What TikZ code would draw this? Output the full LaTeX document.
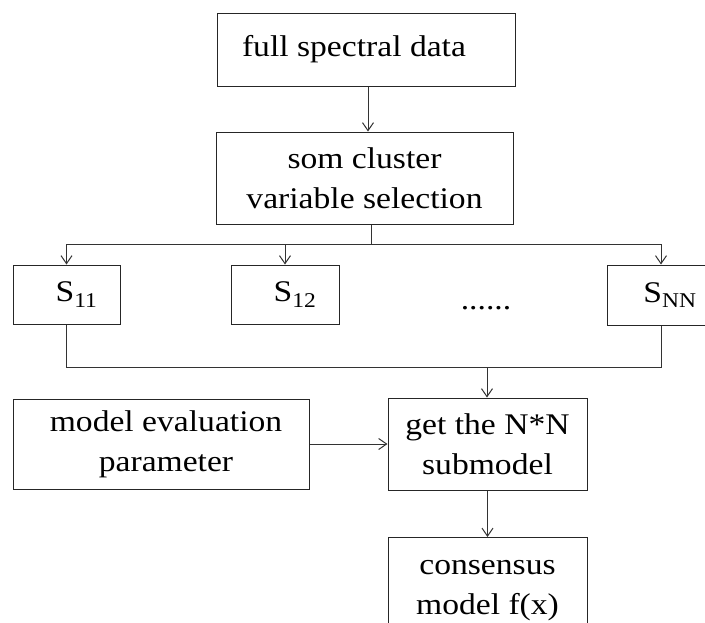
\documentclass[tikz,border=0pt]{standalone}
\usepackage{fontspec}
\setmainfont[FakeStretch=1.12]{Liberation Serif}
\usetikzlibrary{arrows.meta}
\begin{document}
\begin{tikzpicture}[x=1pt,y=-1pt,
  box/.style={draw=black!85,line width=1pt,rectangle,inner sep=0pt,align=center,
    font=\fontsize{30}{40}\selectfont},
  conn/.style={draw=black!80,line width=1pt},
  arr/.style={conn,-{Straight Barb[length=8pt,width=11pt]}}]
\useasboundingbox (0,0) rectangle (705,622);
\fill[white] (0,0) rectangle (705,622);
\node[box,minimum width=298pt,minimum height=73pt] (b1) at (366,49.5) {full spectral data\hspace{24pt}};
\node[box,minimum width=297pt,minimum height=92pt] (b2) at (364.5,178) {som cluster\\variable selection};
\node[box,minimum width=107pt,minimum height=59pt] (s11) at (66.5,294.5) {\hspace{20pt}S\textsubscript{11}};
\node[box,minimum width=108pt,minimum height=59pt] (s12) at (285,294.5) {\hspace{20pt}S\textsubscript{12}};
\node[font=\fontsize{30}{40}\selectfont,inner sep=0pt,anchor=base] (dots) at (486,309) {......};
\node[box,minimum width=108pt,minimum height=60pt] (snn) at (661,295) {\hspace{18pt}S\textsubscript{NN}};
\node[box,minimum width=296pt,minimum height=90pt] (me) at (161,444) {\hspace{10pt}model evaluation\\\hspace{10pt}parameter};
\node[box,minimum width=199pt,minimum height=92pt] (get) at (487.5,444) {get the N*N\\submodel};
\node[box,minimum width=199pt,minimum height=106pt,anchor=north] (cons) at (487.5,537) {consensus\\model f(x)};
\coordinate (split) at (371,244);
\coordinate (merge) at (487,367);
\draw[arr] (b1.south -| 368,0) -- (b2.north -| 368,0);
\draw[conn] (b2.south -| split) -- (split);
\draw[conn] (split -| s11.north) -- (split -| snn.north);
\draw[arr] (split -| s11.north) -- (s11.north);
\draw[arr] (split -| s12.north) -- (s12.north);
\draw[arr] (split -| snn.north) -- (snn.north);
\draw[conn] (s11.south) -- (s11.south |- merge) -- (snn.south |- merge) -- (snn.south);
\draw[arr] (merge) -- (get.north -| merge);
\draw[arr] (me.east) -- (get.west);
\draw[arr] (get.south) -- (cons.north);
\end{tikzpicture}
\end{document}
